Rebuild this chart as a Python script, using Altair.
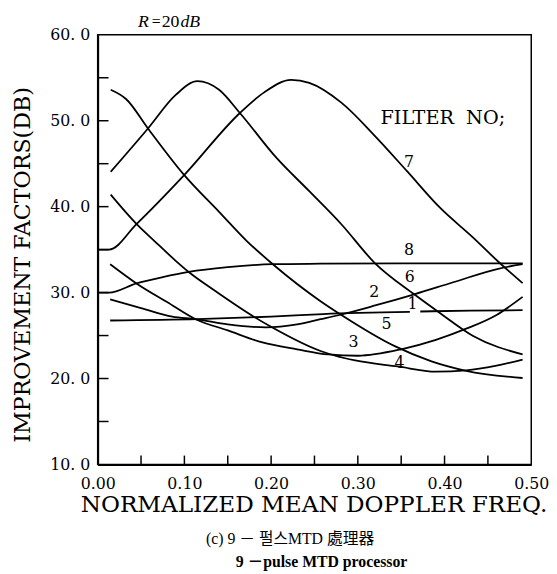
import altair as alt
import pandas as pd

# ---------------- data ----------------
f7_x = [0.0, 0.013, 0.045, 0.100, 0.164, 0.192, 0.223, 0.244, 0.281, 0.319, 0.357, 0.395, 0.433, 0.463, 0.490]
f7_y = [35.0, 35.0, 38.0, 43.7, 50.9, 53.3, 54.75, 54.4, 52.1, 48.3, 44.1, 39.85, 36.4, 33.5, 31.1]

f6_x = [0.015, 0.058, 0.090, 0.115, 0.140, 0.164, 0.206, 0.244, 0.281, 0.319, 0.365, 0.395, 0.433, 0.490]
f6_y = [44.06, 49.1, 53.0, 54.6, 53.6, 50.9, 45.7, 41.8, 37.95, 33.5, 29.8, 27.6, 24.95, 22.8]

f5_x = [0.015, 0.033, 0.058, 0.0996, 0.140, 0.172, 0.202, 0.257, 0.281, 0.342, 0.385, 0.425, 0.490]
f5_y = [53.6, 52.5, 49.1, 43.7, 39.4, 36.0, 33.3, 29.0, 27.4, 23.8, 22.0, 20.9, 20.06]

f4_x = [0.015, 0.0447, 0.0655, 0.090, 0.105, 0.134, 0.180, 0.202, 0.257, 0.274, 0.297, 0.346, 0.390, 0.425, 0.460, 0.490]
f4_y = [41.4, 38.0, 36.0, 33.7, 32.4, 30.3, 27.2, 25.9, 23.2, 22.65, 22.1, 21.4, 20.8, 20.95, 21.5, 22.2]

f3_x = [0.0144, 0.0447, 0.080, 0.113, 0.150, 0.190, 0.230, 0.266, 0.300, 0.350, 0.390, 0.425, 0.460, 0.490]
f3_y = [33.3, 31.07, 28.9, 26.9, 25.6, 24.2, 23.4, 22.8, 22.65, 23.4, 24.5, 25.8, 27.4, 29.5]

f2_x = [0.0144, 0.050, 0.086, 0.113, 0.150, 0.194, 0.230, 0.257, 0.281, 0.320, 0.365, 0.410, 0.463, 0.490]
f2_y = [29.2, 28.2, 27.2, 26.9, 26.3, 25.95, 26.3, 26.9, 27.45, 28.5, 29.8, 31.2, 32.8, 33.3]

f1a_x = [0.0144, 0.115, 0.200, 0.260, 0.360]
f1a_y = [26.75, 26.9, 27.2, 27.5, 27.75]
f1b_x = [0.372, 0.430, 0.490]
f1b_y = [27.8, 27.9, 27.95]

f8_x = [0.0, 0.013, 0.0447, 0.075, 0.105, 0.150, 0.202, 0.257, 0.350, 0.490]
f8_y = [30.0, 30.0, 31.07, 31.8, 32.4, 32.95, 33.3, 33.36, 33.4, 33.4]

label_text = ["7", "8", "6", "2", "1", "5", "3", "4"]
label_x = [0.359, 0.359, 0.360, 0.319, 0.363, 0.333, 0.295, 0.348]
label_y = [45.2, 35.0, 31.75, 30.1, 28.7, 26.3, 24.2, 21.8]

legend_title = "FILTER\u00a0\u00a0NO;"
legend_x = [0.398]
legend_y = [50.25]

x_label_values = [0.0, 0.1, 0.2, 0.3, 0.4, 0.5]
y_label_values = [10, 20, 30, 40, 50, 60]
x_minor_ticks = [0.05, 0.10, 0.15, 0.20, 0.25, 0.30, 0.35, 0.40, 0.45]
y_minor_ticks = [15, 20, 25, 30, 35, 40, 45, 50, 55]

caption_lines = ["(c) 9 － 펄스MTD 處理器", "9 －pulse MTD processor"]

SERIF = "DejaVu Serif, Noto Sans CJK KR"
TIMES = "Liberation Serif, Noto Sans CJK KR"
W, H = 440, 436

# ---------------- build table ----------------
rows = []
for name, xs, ys in [("7", f7_x, f7_y), ("6", f6_x, f6_y), ("5", f5_x, f5_y),
                     ("4", f4_x, f4_y), ("3", f3_x, f3_y), ("2", f2_x, f2_y),
                     ("1a", f1a_x, f1a_y), ("1b", f1b_x, f1b_y), ("8", f8_x, f8_y)]:
    for x, y in zip(xs, ys):
        rows.append({"seg": name, "x": x, "y": y})
df = pd.DataFrame(rows)

xscale = alt.Scale(domain=[0, 0.5], nice=False, zero=False)
yscale = alt.Scale(domain=[10, 60], nice=False, zero=False)

x_axis = alt.Axis(values=x_label_values, format=".2f", ticks=False, grid=False,
                  domainColor="black", domainWidth=2, labelFont=SERIF, labelFontSize=16,
                  labelColor="black", labelPadding=11, labelFlush=False, labelOverlap=False,
                  title="NORMALIZED MEAN DOPPLER FREQ.", titleFont=SERIF, titleFontSize=23.5,
                  titleFontWeight="normal", titleColor="black", titleX=219, titleY=48,
                  titleAlign="center", titleBaseline="alphabetic")
y_axis = alt.Axis(values=y_label_values, labelExpr="format(datum.value, 'd') + '. 0'",
                  ticks=False, grid=False, domainColor="black", domainWidth=2,
                  labelFont=SERIF, labelFontSize=16, labelColor="black", labelPadding=8,
                  labelFlush=False, labelOverlap=False,
                  title="IMPROVEMENT FACTORS(DB)", titleFont=SERIF, titleFontSize=22.5,
                  titleFontWeight="normal", titleColor="black", titleAngle=270,
                  titleX=-69, titleY=233, titleAlign="center", titleBaseline="alphabetic")

lines = alt.Chart(df).mark_line(color="black", strokeWidth=1.8, interpolate="monotone").encode(
    x=alt.X("x:Q", scale=xscale, axis=x_axis),
    y=alt.Y("y:Q", scale=yscale, axis=y_axis),
    detail="seg:N",
)

labels = alt.Chart(pd.DataFrame({"t": label_text, "x": label_x, "y": label_y})).mark_text(
    font=SERIF, fontSize=16, color="black", align="center", baseline="middle"
).encode(x=alt.X("x:Q", scale=xscale), y=alt.Y("y:Q", scale=yscale), text="t:N")

legend = alt.Chart(pd.DataFrame({"t": [legend_title], "x": legend_x, "y": legend_y})).mark_text(
    font=SERIF, fontSize=19.5, color="black", align="center", baseline="middle"
).encode(x=alt.X("x:Q", scale=xscale), y=alt.Y("y:Q", scale=yscale), text="t:N")

xt = alt.Chart(pd.DataFrame({"v": x_minor_ticks})).mark_rule(color="black", strokeWidth=1.5).encode(
    x=alt.X("v:Q", scale=xscale), y=alt.value(H), y2=alt.value(H - 9))
yt = alt.Chart(pd.DataFrame({"v": y_minor_ticks})).mark_rule(color="black", strokeWidth=1.5).encode(
    y=alt.Y("v:Q", scale=yscale), x=alt.value(0), x2=alt.value(11))

dummy = pd.DataFrame({"a": [0]})


def note(text, x, y, size, font=TIMES, style="normal", weight="normal"):
    return alt.Chart(dummy).mark_text(text=text, font=font, fontSize=size, fontStyle=style,
                                      fontWeight=weight, align="left", baseline="alphabetic",
                                      color="black").encode(x=alt.value(x), y=alt.value(y))


r1 = note("R", 41, -8, 18, style="italic")
r2 = note("=", 55, -8, 16)
r3 = note("20", 65, -8, 18)
r4 = note("dB", 84, -8, 18, style="italic")
c1 = note(caption_lines[0], 110, 517, 16)
c2 = note(caption_lines[1], 140, 540, 16, weight="bold")

chart = alt.layer(lines, xt, yt, labels, legend, r1, r2, r3, r4, c1, c2).properties(
    width=W, height=H,
    autosize=alt.AutoSizeParams(type="none"),
    padding={"left": 91, "top": 23, "right": 18, "bottom": 108},
    background="white",
).configure_view(stroke="black", strokeWidth=1.5)

chart.save("out.html", embed_options={"renderer": "svg", "actions": False})
